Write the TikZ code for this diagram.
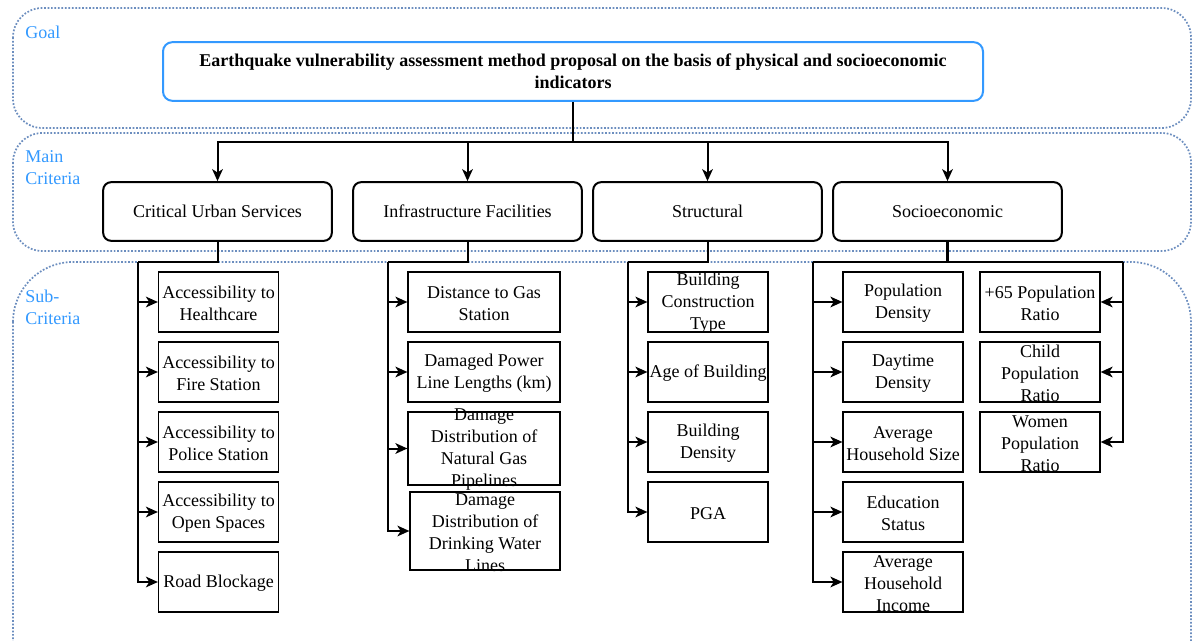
\documentclass[tikz,border=0pt]{standalone}
\usepackage{fontspec}
\setmainfont{Liberation Serif}
\usetikzlibrary{arrows.meta, positioning}
\definecolor{grpline}{HTML}{6C8EBF}
\definecolor{lblblue}{HTML}{3399FF}
\tikzset
{%
every node/.style={font=\rmfamily\fontsize{13.5}{16.5}\selectfont},
group/.style={draw=grpline, line width=1.3pt, dash pattern=on 1.3pt off 1.3pt},
lvl/.style={text=lblblue, anchor=west, align=left, inner sep=0pt, font=\rmfamily\fontsize{13.5}{16.5}\selectfont},
goalbox/.style={draw=lblblue, line width=1.5pt, rounded corners=7pt, minimum width=615pt, minimum height=44pt, align=center, font=\rmfamily\bfseries\fontsize{13.5}{16.5}\selectfont},
critbox/.style={draw, line width=1.5pt, rounded corners=6pt, minimum width=171.5pt, minimum height=44pt},
subbox/.style={draw, line width=0.9pt, minimum width=90pt, minimum height=45pt, inner sep=0pt},
txt/.style={label={[align=center, inner sep=0pt, yshift=-1pt]center:{#1}}},
link/.style={line width=1.5pt},
arr/.style={link, -{Stealth[length=9pt, width=8pt, inset=2.5pt]}}
}

\begin{document}
\begin{tikzpicture}[x=0.75pt, y=-0.75pt]
		\useasboundingbox (0,0) rectangle (1192,641);
		
		%Levels
		\draw[group, rounded corners=22pt] (13,8) rectangle (1191,128);
		\draw[group, rounded corners=22pt] (13,133) rectangle (1191,251);
		\draw[group, rounded corners=45pt] (13,262) rectangle (1191,700);
		\node[lvl] (goallbl) at (25,32) {Goal};
		\node[lvl] (mainlbl) at (25,168) {Main\\Criteria};
		\node[lvl] (sublbl) at (25,307) {Sub-\\Criteria};
		
		%Goal
		\node[goalbox] (goal) at (573,71.5) {Earthquake vulnerability assessment method proposal on the basis of physical and socioeconomic\\indicators};
		
		%Main criteria
		\node[critbox] (cus) at (217.5,211.5) {Critical Urban Services};
		\node[critbox] (inf) at (467.5,211.5) {Infrastructure Facilities};
		\node[critbox] (str) at (707.5,211.5) {Structural};
		\node[critbox] (soc) at (947.5,211.5) {Socioeconomic};
		
		%Critical urban services
		\node[subbox, txt={Accessibility to\\Healthcare}] (cus1) at (218.5,302) {};
		\node[subbox, txt={Accessibility to\\Fire Station}] (cus2) at (218.5,372) {};
		\node[subbox, txt={Accessibility to\\Police Station}] (cus3) at (218.5,442) {};
		\node[subbox, txt={Accessibility to\\Open Spaces}] (cus4) at (218.5,512) {};
		\node[subbox, txt={Road Blockage}] (cus5) at (218.5,582) {};
		
		%Infrastructure facilities
		\node[subbox, minimum width=114pt, txt={Distance to Gas\\Station}] (inf1) at (484,302) {};
		\node[subbox, minimum width=114pt, txt={Damaged Power\\Line Lengths (km)}] (inf2) at (484,372) {};
		\node[subbox, minimum width=114pt, minimum height=54.75pt, txt={Damage\\Distribution of\\Natural Gas\\Pipelines}] (inf3) at (484,448.5) {};
		\node[subbox, minimum width=112.5pt, minimum height=58.5pt, txt={Damage\\Distribution of\\Drinking Water\\Lines}] (inf4) at (485,531) {};
		
		%Structural
		\node[subbox, txt={Building\\Construction\\Type}] (str1) at (708,302) {};
		\node[subbox, txt={Age of Building}] (str2) at (708,372) {};
		\node[subbox, txt={Building\\Density}] (str3) at (708,442) {};
		\node[subbox, txt={PGA}] (str4) at (708,512) {};
		
		%Socioeconomic
		\node[subbox, txt={Population\\Density}] (soc1) at (903,302) {};
		\node[subbox, txt={Daytime\\Density}] (soc2) at (903,372) {};
		\node[subbox, txt={Average\\Household Size}] (soc3) at (903,442) {};
		\node[subbox, txt={Education\\Status}] (soc4) at (903,512) {};
		\node[subbox, txt={Average\\Household\\Income}] (soc5) at (903,582) {};
		\node[subbox, txt={+65 Population\\Ratio}] (soc6) at (1040,302) {};
		\node[subbox, txt={Child\\Population\\Ratio}] (soc7) at (1040,372) {};
		\node[subbox, txt={Women\\Population\\Ratio}] (soc8) at (1040,442) {};
		
		%Goal to main criteria
		\coordinate (split) at (573,142);
		\draw[link] (goal.south) -- (split);
		\draw[arr] (split) -| (cus.north);
		\draw[arr] (split) -| (inf.north);
		\draw[arr] (split) -| (str.north);
		\draw[arr] (split) -| (soc.north);
		
		%Main criteria to sub-criteria
		\coordinate (cusbus) at (138,262);
		\coordinate (infbus) at (388,262);
		\coordinate (strbus) at (628,262);
		\coordinate (socbusl) at (813,262);
		\coordinate (socbusr) at (1123,262);
		\draw[link] (cus.south) |- (cusbus);
		\draw[link] (inf.south) |- (infbus);
		\draw[link] (str.south) |- (strbus);
		\draw[link, line width=2.2pt] (soc.south) -- (soc.south |- socbusl);
		\draw[link] (soc.south |- socbusl) -- (socbusl) (soc.south |- socbusr) -- (socbusr);
		
		\draw[arr] (cusbus) |- (cus1.west);
		\draw[arr] (cusbus) |- (cus2.west);
		\draw[arr] (cusbus) |- (cus3.west);
		\draw[arr] (cusbus) |- (cus4.west);
		\draw[arr] (cusbus) |- (cus5.west);
		\draw[arr] (infbus) |- (inf1.west);
		\draw[arr] (infbus) |- (inf2.west);
		\draw[arr] (infbus) |- (inf3.west);
		\draw[arr] (infbus) |- (inf4.west);
		\draw[arr] (strbus) |- (str1.west);
		\draw[arr] (strbus) |- (str2.west);
		\draw[arr] (strbus) |- (str3.west);
		\draw[arr] (strbus) |- (str4.west);
		\draw[arr] (socbusl) |- (soc1.west);
		\draw[arr] (socbusl) |- (soc2.west);
		\draw[arr] (socbusl) |- (soc3.west);
		\draw[arr] (socbusl) |- (soc4.west);
		\draw[arr] (socbusl) |- (soc5.west);
		\draw[arr] (socbusr) |- (soc6.east);
		\draw[arr] (socbusr) |- (soc7.east);
		\draw[arr] (socbusr) |- (soc8.east);
	\end{tikzpicture}
\end{document}
